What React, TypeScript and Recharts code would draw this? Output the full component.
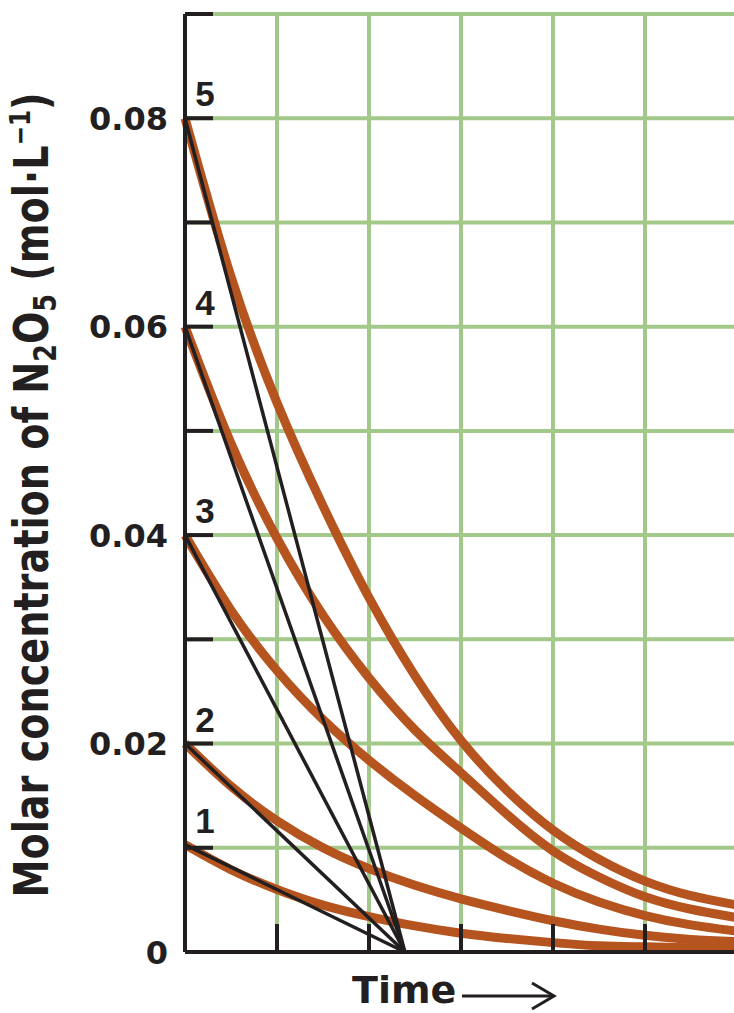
import { LineChart, Line, XAxis, YAxis, CartesianGrid } from 'recharts';

// time in grid units, concentration in mol/L
const times = [0, 0.5, 1, 1.5, 2, 2.5, 3, 3.5, 4, 4.5, 5, 5.5, 6];
const run1 = [0.0103, 0.0079, 0.006, 0.0045, 0.0034, 0.0025, 0.0018, 0.0013, 0.0009, 0.0006, 0.0005, 0.0004, 0.0003];
const run2 = [0.02, 0.0159, 0.0126, 0.01, 0.008, 0.0064, 0.0051, 0.004, 0.003, 0.0022, 0.0016, 0.0012, 0.001];
const run3 = [0.04, 0.0328, 0.027, 0.0223, 0.0184, 0.015, 0.0119, 0.009, 0.0066, 0.0048, 0.0035, 0.0026, 0.002];
const run4 = [0.06, 0.0488, 0.0397, 0.0323, 0.0263, 0.0213, 0.0172, 0.0132, 0.0097, 0.0072, 0.0053, 0.0041, 0.0033];
const run5 = [0.08, 0.0648, 0.0527, 0.0428, 0.034, 0.0265, 0.0203, 0.0155, 0.0117, 0.0089, 0.0068, 0.0054, 0.0045];
const runNames = ['1', '2', '3', '4', '5'];

// initial-rate tangents all hit zero at the same time
const tangentEnd = 2.39;

const xTicks = [0, 1, 2, 3, 4, 5, 6];
const yTicks = [0, 0.01, 0.02, 0.03, 0.04, 0.05, 0.06, 0.07, 0.08, 0.09];
const yLabels: Record<string, string> = { '0': '0', '0.02': '0.02', '0.04': '0.04', '0.06': '0.06', '0.08': '0.08' };

const INK = '#231f20';
const ORANGE = '#b5541e';
const GRID = '#a3c98a';

const runs = [run1, run2, run3, run4, run5].map((vals) => times.map((t, i) => ({ t, c: vals[i] })));
const tangents = runs.map((r) => [
  { t: 0, c: r[0].c },
  { t: tangentEnd, c: 0 },
]);

const YTick = (props: any) => {
  const { x, y, payload } = props;
  const label = yLabels[String(payload.value)];
  return (
    <g>
      {payload.value > 0 && <line x1={x + 17} x2={x + 45} y1={y} y2={y} stroke={INK} strokeWidth={4} />}
      {label && (
        <text x={x} y={y} dy="0.36em" textAnchor="end" fontFamily="DejaVu Sans" fontWeight="bold" fontSize={32} fill={INK}>
          {label}
        </text>
      )}
    </g>
  );
};

const XTick = (props: any) => {
  const { x, y, payload } = props;
  if (payload.value === 0) return <g />;
  return <line x1={x} x2={x} y1={y} y2={y - 28} stroke={INK} strokeWidth={4} />;
};

const runLabel = (name: string) => (props: any) => {
  if (props.index !== 0) return <g />;
  return (
    <text x={props.x + 20} y={props.y - 12} textAnchor="middle" fontFamily="Liberation Sans" fontWeight="bold" fontSize={35} fill={INK}>
      {name}
    </text>
  );
};

const YTitle = () => (
  <text
    transform="translate(48,495) rotate(-90)"
    textAnchor="middle"
    fontFamily="'DejaVu Sans Condensed', 'Liberation Sans', sans-serif"
    fontWeight="bold"
    fontSize={48}
    fill={INK}
    textLength={805}
    lengthAdjust="spacingAndGlyphs"
  >
    Molar concentration of N<tspan fontSize={32} dy={8}>2</tspan>
    <tspan dy={-8}>O</tspan>
    <tspan fontSize={32} dy={8}>5</tspan>
    <tspan dy={-8}> (mol·L</tspan>
    <tspan fontSize={29} dy={-18}>−1</tspan>
    <tspan dy={18}>)</tspan>
  </text>
);

const XTitle = () => (
  <g>
    <text x={352} y={1003} fontFamily="DejaVu Sans" fontWeight="bold" fontSize={38} fill={INK}>
      Time
    </text>
    <line x1={462} x2={553} y1={996} y2={996} stroke={INK} strokeWidth={3} />
    <polyline points="532,983 554,996 532,1009" fill="none" stroke={INK} strokeWidth={3} />
  </g>
);

export default function App() {
  return (
    <div style={{ position: 'absolute', left: 0, top: 0, width: 734, height: 1013, overflow: 'hidden', background: '#fff' }}>
      <LineChart width={740} height={1013} margin={{ top: 14, right: 3, bottom: 0, left: 0 }}>
        <CartesianGrid stroke={GRID} strokeWidth={4} />
        <XAxis
          type="number"
          dataKey="t"
          domain={[0, 6]}
          ticks={xTicks}
          tickSize={0}
          tickMargin={0}
          tick={<XTick />}
          axisLine={{ stroke: INK, strokeWidth: 4 }}
          tickLine={false}
          height={61}
          label={{ content: () => <XTitle /> }}
        />
        <YAxis
          type="number"
          domain={[0, 0.09]}
          ticks={yTicks}
          width={185}
          tickSize={0}
          tickMargin={17}
          tick={<YTick />}
          axisLine={{ stroke: INK, strokeWidth: 4 }}
          tickLine={false}
          label={{ content: () => <YTitle /> }}
        />
        {runs.map((r, i) => (
          <Line
            key={`run-${i}`}
            data={r}
            dataKey="c"
            type="natural"
            stroke={ORANGE}
            strokeWidth={9}
            dot={false}
            isAnimationActive={false}
            label={runLabel(runNames[i])}
          />
        ))}
        {tangents.map((r, i) => (
          <Line
            key={`tan-${i}`}
            data={r}
            dataKey="c"
            type="linear"
            stroke={INK}
            strokeWidth={3.5}
            dot={false}
            isAnimationActive={false}
          />
        ))}
      </LineChart>
    </div>
  );
}
